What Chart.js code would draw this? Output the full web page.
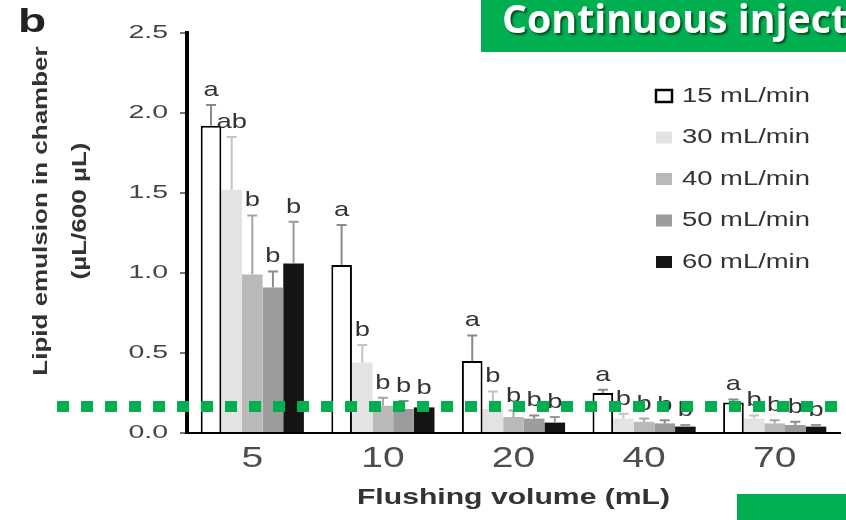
<!DOCTYPE html>
<html>
<head>
<meta charset="utf-8">
<script src="https://cdn.jsdelivr.net/npm/chart.js@4/dist/chart.umd.min.js"></script>
<style>
  html, body { margin: 0; padding: 0; background: #fff; }
  #wrap { width: 846px; height: 520px; position: relative; }
</style>
</head>
<body>
<div id="wrap"><canvas id="c" width="846" height="520"></canvas></div>
<script>
// Flushing volumes (mL) and flow rates
const volumes = ['5', '10', '20', '40', '70'];
const rates = ['15 mL/min', '30 mL/min', '40 mL/min', '50 mL/min', '60 mL/min'];
const yTickLabels = ['0.0', '0.5', '1.0', '1.5', '2.0', '2.5'];

// Lipid emulsion remaining in chamber (µL/600 µL), mean per flow rate
const mean15 = [1.92, 1.05, 0.45, 0.25, 0.19];
const mean30 = [1.52, 0.44, 0.15, 0.09, 0.09];
const mean40 = [0.99, 0.17, 0.10, 0.07, 0.06];
const mean50 = [0.91, 0.15, 0.09, 0.06, 0.05];
const mean60 = [1.06, 0.16, 0.065, 0.04, 0.04];

// Standard deviations (upper error bars)
const sd15 = [0.13, 0.25, 0.16, 0.02, 0.02];
const sd30 = [0.33, 0.11, 0.11, 0.03, 0.02];
const sd40 = [0.37, 0.05, 0.04, 0.02, 0.02];
const sd50 = [0.10, 0.05, 0.02, 0.02, 0.02];
const sd60 = [0.26, 0.03, 0.035, 0.01, 0.01];

// Significance letters within each flushing volume
const sig15 = ['a', 'a', 'a', 'a', 'a'];
const sig30 = ['ab', 'b', 'b', 'b', 'b'];
const sig40 = ['b', 'b', 'b', 'b', 'b'];
const sig50 = ['b', 'b', 'b', 'b', 'b'];
const sig60 = ['b', 'b', 'b', 'b', 'b'];

// Level of the green dotted guide line
const markerLevel = 0.165;

const GREEN = '#00b050';

function stretchText(ctx, text, x, y, font, color, align, sx, baseline) {
  ctx.save();
  ctx.font = font;
  ctx.fillStyle = color;
  ctx.textAlign = align;
  ctx.textBaseline = baseline || 'middle';
  ctx.translate(x, y);
  ctx.scale(sx, 1);
  ctx.fillText(text, 0, 0);
  ctx.restore();
}

const decor = {
  id: 'decor',
  afterDatasetsDraw(chart) {
    const ctx = chart.ctx;
    const y = chart.scales.y;
    chart.data.datasets.forEach((ds, i) => {
      const meta = chart.getDatasetMeta(i);
      meta.data.forEach((bar, j) => {
        const mid = y.getPixelForValue(ds.data[j]);
        const top = y.getPixelForValue(ds.data[j] + ds.errors[j]);
        ctx.save();
        ctx.strokeStyle = ds.errorColor;
        ctx.lineWidth = 2;
        ctx.beginPath();
        ctx.moveTo(bar.x, mid);
        ctx.lineTo(bar.x, top);
        ctx.moveTo(bar.x - 5, top);
        ctx.lineTo(bar.x + 5, top);
        ctx.stroke();
        ctx.restore();
        stretchText(ctx, ds.letters[j], bar.x, top - 9, '21px "Liberation Sans"', '#333', 'center', 1.3, 'alphabetic');
      });
    });
  },
  afterDraw(chart) {
    const ctx = chart.ctx;
    const x = chart.scales.x;
    const y = chart.scales.y;
    const area = chart.chartArea;

    // y tick labels
    yTickLabels.forEach(l => {
      stretchText(ctx, l, area.left - 19, y.getPixelForValue(parseFloat(l)), '19px "Liberation Sans"', '#444', 'right', 1.5, 'middle');
    });
    // x tick labels
    volumes.forEach((v, i) => {
      stretchText(ctx, v, x.getPixelForValue(i), 459, '30px "Liberation Sans"', '#4d4d4d', 'center', 1.3, 'middle');
    });

    // axis titles
    stretchText(ctx, 'Flushing volume (mL)', (area.left + area.right) / 2, 498, 'bold 22px "Liberation Sans"', '#333', 'center', 1.37, 'middle');
    [['Lipid emulsion in chamber', 41], ['(µL/600 µL)', 80]].forEach(([t, cx]) => {
      ctx.save();
      ctx.translate(cx, 211);
      ctx.rotate(-Math.PI / 2);
      ctx.scale(1.3, 1);
      ctx.font = 'bold 20px "Liberation Sans"';
      ctx.fillStyle = '#333';
      ctx.textAlign = 'center';
      ctx.textBaseline = 'middle';
      ctx.fillText(t, 0, 0);
      ctx.restore();
    });

    // panel letter
    stretchText(ctx, 'b', 18, 32, 'bold 33px "Liberation Sans"', '#222', 'left', 1.4, 'alphabetic');

    // legend
    chart.data.datasets.forEach((ds, i) => {
      const cy = 96 + i * 41.5;
      ctx.save();
      ctx.fillStyle = ds.backgroundColor;
      ctx.fillRect(656, cy - 6, 16, 12);
      if (i === 0) {
        ctx.strokeStyle = '#000';
        ctx.lineWidth = 2.5;
        ctx.strokeRect(656, cy - 6, 16, 12);
      }
      ctx.restore();
      stretchText(ctx, ds.label, 682, cy, '20px "Liberation Sans"', '#333', 'left', 1.37, 'middle');
    });

    // green dotted guide line
    const gy = y.getPixelForValue(markerLevel);
    ctx.save();
    ctx.strokeStyle = GREEN;
    ctx.lineWidth = 11;
    ctx.lineCap = 'butt';
    ctx.setLineDash([12, 12]);
    ctx.beginPath();
    ctx.moveTo(57, gy);
    ctx.lineTo(chart.width, gy);
    ctx.stroke();
    ctx.restore();

    // green banner
    ctx.save();
    ctx.fillStyle = GREEN;
    ctx.fillRect(481, 0, chart.width - 481, 52);
    ctx.font = 'bold 39px "Open Sans"';
    const banner = 'Continuous inject';
    const w = ctx.measureText(banner).width;
    ctx.translate(502, 33);
    ctx.scale(346 / w, 1);
    ctx.shadowColor = 'rgba(0,0,0,0.55)';
    ctx.shadowOffsetX = 2;
    ctx.shadowOffsetY = 2;
    ctx.shadowBlur = 2;
    ctx.fillStyle = '#fff';
    ctx.textBaseline = 'alphabetic';
    ctx.fillText(banner, 0, 0);
    ctx.restore();

    // small green block, lower right
    ctx.save();
    ctx.fillStyle = GREEN;
    ctx.fillRect(737, 494, chart.width - 737, chart.height - 494);
    ctx.restore();
  }
};

function series(label, data, errors, letters, fill, errorColor, border, bw) {
  return {
    label, data, errors, letters, errorColor,
    backgroundColor: fill,
    borderColor: border || fill,
    borderWidth: bw || 0,
    categoryPercentage: 0.79,
    barPercentage: 1.0
  };
}

new Chart(document.getElementById('c'), {
  type: 'bar',
  data: {
    labels: volumes,
    datasets: [
      series(rates[0], mean15, sd15, sig15, '#ffffff', '#8a8a8a', '#000000', 2),
      series(rates[1], mean30, sd30, sig30, '#e3e3e3', '#c4c4c4'),
      series(rates[2], mean40, sd40, sig40, '#b9b9b9', '#a5a5a5'),
      series(rates[3], mean50, sd50, sig50, '#9c9c9c', '#8c8c8c'),
      series(rates[4], mean60, sd60, sig60, '#141414', '#9a9a9a')
    ]
  },
  options: {
    responsive: false,
    animation: false,
    devicePixelRatio: 1,
    layout: { padding: { top: 33, right: 6, left: 0, bottom: 0 } },
    plugins: { legend: { display: false }, tooltip: { enabled: false } },
    scales: {
      x: {
        z: 1,
        grid: { display: false },
        border: { display: true, color: '#000', width: 2 },
        ticks: { display: false },
        afterFit(scale) { scale.height = 87; }
      },
      y: {
        z: 1,
        min: 0,
        max: 2.5,
        ticks: { display: false, stepSize: 0.5 },
        grid: { drawOnChartArea: false, drawTicks: true, tickLength: 7, color: '#777', lineWidth: 2 },
        border: { display: true, color: '#000', width: 4 },
        afterFit(scale) { scale.width = 187; }
      }
    }
  },
  plugins: [decor]
});
</script>
</body>
</html>
